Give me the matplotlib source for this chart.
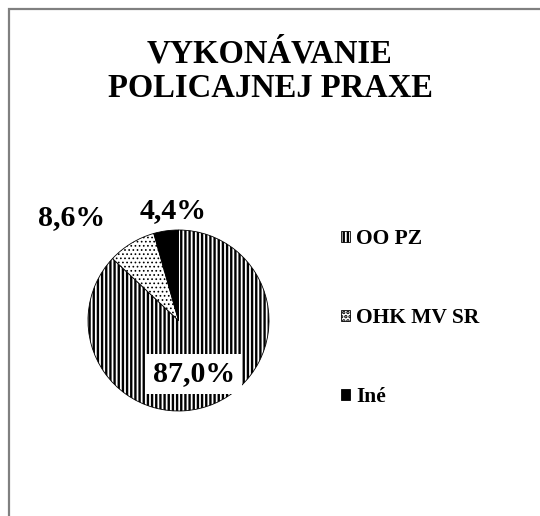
import matplotlib
matplotlib.use("Agg")
import matplotlib.pyplot as plt
from matplotlib.patches import Rectangle
import numpy as np

categories = ["OO PZ", "OHK MV SR", "Iné"]
values = [87.0, 8.6, 4.4]
labels = ["87,0%", "8,6%", "4,4%"]
title = "VYKONÁVANIE\nPOLICAJNEJ PRAXE"

plt.rcParams['font.family'] = ['Liberation Serif', 'DejaVu Serif']
plt.rcParams['hatch.linewidth'] = 1.7

fig = plt.figure(figsize=(5.4, 5.16), dpi=100)
fig.patch.set_facecolor('white')

# gray frame (top & left visible, continues past right/bottom)
fig.patches.append(Rectangle((9/540, -0.2), 1.5, 1.2 - 9/516,
                             transform=fig.transFigure, fill=False,
                             edgecolor='#808080', linewidth=1.6))

ax = fig.add_axes([88/540, 1 - 411/516, 181/540, 181/516])
wedges, texts = ax.pie(values, startangle=90, counterclock=False,
                       colors=['white', 'white', 'black'],
                       wedgeprops=dict(edgecolor='black', linewidth=0.6))
wedges[0].set_hatch('||||')
wedges[1].set_hatch('....')
try:
    wedges[1].set_hatch_linewidth(0.7)
except AttributeError:
    pass
ax.set_xlim(-1, 1)
ax.set_ylim(-1, 1)
ax.set_aspect('equal')

# percentage labels
pos = [(0.17, -0.59), (-1.18, 1.14), (-0.06, 1.21)]
for i, (lab, (x, y)) in enumerate(zip(labels, pos)):
    kw = dict(ha='center', va='center', fontsize=21.5, fontweight='bold')
    if i == 0:
        kw['bbox'] = dict(facecolor='white', edgecolor='none', pad=5)
    ax.text(x, y, lab, **kw)

fig.text(0.5, 1 - 71/516, title, ha='center', va='center',
         fontsize=23.5, fontweight='bold', linespacing=1.15)

leg = fig.legend(wedges, categories, loc='center left',
                 bbox_to_anchor=(322/540, 1 - 318/516),
                 frameon=False,
                 prop=dict(weight='bold', size=15.5),
                 handlelength=0.4, handleheight=0.4, handletextpad=0.3,
                 labelspacing=2.75)

fig.savefig('out.png', dpi=100, facecolor='white')
